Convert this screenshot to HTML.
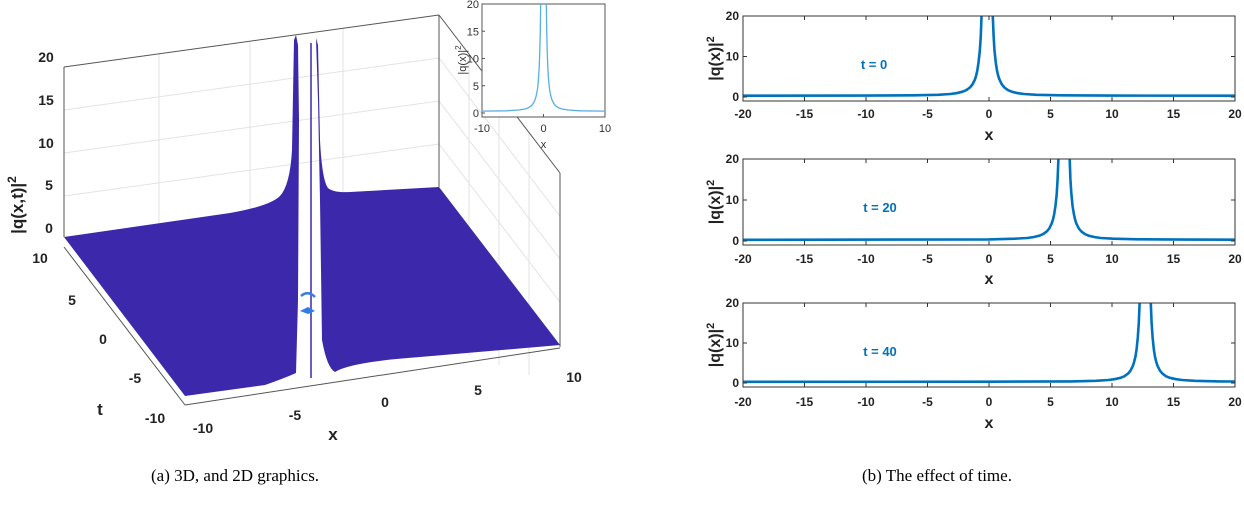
<!DOCTYPE html>
<html><head><meta charset="utf-8">
<style>
html,body{margin:0;padding:0;background:#fff;}
body{width:1244px;height:508px;overflow:hidden;position:relative;font-family:"Liberation Sans",sans-serif;}
svg{position:absolute;left:0;top:0;}
.cap{position:absolute;top:466px;font-family:"Liberation Serif",serif;font-size:17px;color:#000;white-space:nowrap;}
</style></head>
<body>
<svg id="fig" width="1244" height="508" viewBox="0 0 1244 508">
  <g id="p3d">
    <g stroke="#e3e3e3" stroke-width="1" fill="none">
      <line x1="64" y1="110" x2="439" y2="58"/>
      <line x1="64" y1="153" x2="439" y2="101"/>
      <line x1="64" y1="196" x2="439" y2="144"/>
      <line x1="159" y1="54" x2="159" y2="224"/>
      <line x1="250" y1="41" x2="250" y2="212"/>
      <line x1="343" y1="28" x2="343" y2="200"/>
      <line x1="439" y1="58" x2="560" y2="216"/>
      <line x1="439" y1="101" x2="560" y2="259"/>
      <line x1="439" y1="144" x2="560" y2="302"/>
      <line x1="469" y1="54" x2="469" y2="355"/>
      <line x1="499" y1="93" x2="499" y2="365"/>
      <line x1="529" y1="132" x2="529" y2="375"/>
    </g>
    <g stroke="#555" stroke-width="1" fill="none">
      <line x1="64" y1="67" x2="439" y2="15"/>
      <line x1="439" y1="15" x2="439" y2="187"/>
      <line x1="439" y1="15" x2="560" y2="173"/>
      <line x1="560" y1="173" x2="560" y2="347"/>
      <line x1="64" y1="67" x2="64" y2="237"/>
      <line x1="64" y1="247" x2="185" y2="405"/>
      <line x1="185" y1="405" x2="560" y2="348"/>
    </g>
    <path fill="#3c28aa"
      d="M64,237 L230,213 Q270,206 280,196 Q290,185 292,150 L294,40 L296,35 L298,45 L299,120 L298,300 L296,373 Q285,378 265,385 L185,396 Z"/>
    <path fill="#3c28aa"
      d="M316,38 L318,45 L320,140 Q322,180 328,188 Q334,193 350,192 L439,187 L560,345 L420,357 Q350,362 335,372 Q327,368 322,340 L320,200 L318,100 Z"/>
    <line x1="311" y1="43" x2="311" y2="378" stroke="#3c28aa" stroke-width="1.5"/>
    <path d="M301,296 Q308,290 315,297" stroke="#3a7de0" stroke-width="2.5" fill="none"/>
    <path d="M300,311 L308,307 L315,311 L308,314 Z" fill="#2f7be8"/>
    <g font-size="14" font-weight="bold" fill="#222" text-anchor="middle">
      <text x="46" y="62">20</text><text x="46" y="105">15</text><text x="46" y="148">10</text><text x="49" y="190">5</text><text x="49" y="233">0</text>
    </g>
    <g font-size="14" font-weight="bold" fill="#222" text-anchor="middle">
      <text x="40" y="263">10</text><text x="72" y="305">5</text><text x="103" y="344">0</text><text x="135" y="383">-5</text><text x="155" y="423">-10</text>
    </g>
    <g font-size="14" font-weight="bold" fill="#222" text-anchor="middle">
      <text x="203" y="433">-10</text><text x="295" y="420">-5</text><text x="385" y="407">0</text><text x="478" y="395">5</text><text x="574" y="382">10</text>
    </g>
    <text x="100" y="415" font-size="17" font-weight="bold" text-anchor="middle" fill="#222">t</text>
    <text x="333" y="440" font-size="17" font-weight="bold" text-anchor="middle" fill="#222">x</text>
    <text transform="translate(23,205) rotate(-90)" font-size="17" font-weight="bold" text-anchor="middle" fill="#222">|q(x,t)|<tspan dy="-7" font-size="12">2</tspan></text>
  </g>
  <g id="inset"></g>
  <g id="right"></g>
</svg>
<div class="cap" style="left:151px">(a) 3D, and 2D graphics.</div>
<div class="cap" style="left:862px">(b) The effect of time.</div>
<script>
// ---- data ----
const xTicks = [-20, -15, -10, -5, 0, 5, 10, 15, 20];
const yTicks = [0, 10, 20];
const tLabels = ["t = 0", "t = 20", "t = 40"];
const x0L = [-20, -10.15, -6.15, -4.15, -3.15, -2.65, -2.15, -1.85, -1.55, -1.35, -1.15, -1.05, -0.95, -0.85, -0.75, -0.67, -0.6];
const y0L = [0.31, 0.34, 0.41, 0.55, 0.74, 0.94, 1.3, 1.68, 2.34, 3.08, 4.3, 5.24, 6.55, 8.46, 11.4, 15.1, 20.5];
const x0R = [0.3, 0.37, 0.45, 0.55, 0.65, 0.75, 0.85, 1.05, 1.25, 1.55, 1.85, 2.35, 2.85, 3.85, 5.85, 9.85, 20];
const y0R = [20.5, 15.1, 11.4, 8.46, 6.55, 5.24, 4.3, 3.08, 2.34, 1.68, 1.3, 0.94, 0.74, 0.55, 0.41, 0.34, 0.31];
const x20L = [-20, 0, 2.1, 3.1, 3.6, 4.1, 4.4, 4.7, 4.9, 5.1, 5.2, 5.3, 5.4, 5.5, 5.58, 5.65];
const y20L = [0.3, 0.4, 0.55, 0.74, 0.94, 1.3, 1.68, 2.34, 3.08, 4.3, 5.24, 6.55, 8.46, 11.4, 15.1, 20.5];
const x20R = [6.55, 6.62, 6.7, 6.8, 6.9, 7.0, 7.1, 7.3, 7.5, 7.8, 8.1, 8.6, 9.1, 10.1, 12.1, 16.1, 20];
const y20R = [20.5, 15.1, 11.4, 8.46, 6.55, 5.24, 4.3, 3.08, 2.34, 1.68, 1.3, 0.94, 0.74, 0.55, 0.41, 0.34, 0.32];
const x40L = [-20, 0, 6.7, 8.7, 9.7, 10.2, 10.7, 11.0, 11.3, 11.5, 11.7, 11.8, 11.9, 12.0, 12.1, 12.18, 12.25];
const y40L = [0.3, 0.33, 0.41, 0.55, 0.74, 0.94, 1.3, 1.68, 2.34, 3.08, 4.3, 5.24, 6.55, 8.46, 11.4, 15.1, 20.5];
const x40R = [13.15, 13.22, 13.3, 13.4, 13.5, 13.6, 13.7, 13.9, 14.1, 14.4, 14.7, 15.2, 15.7, 16.7, 18.7, 20];
const y40R = [20.5, 15.1, 11.4, 8.46, 6.55, 5.24, 4.3, 3.08, 2.34, 1.68, 1.3, 0.94, 0.74, 0.55, 0.41, 0.38];
const xInL = [-10, -6, -4, -3, -2.5, -2, -1.7, -1.4, -1.2, -1, -0.9, -0.8, -0.7, -0.6, -0.52, -0.45];
const yInL = [0.34, 0.41, 0.55, 0.74, 0.94, 1.3, 1.68, 2.34, 3.08, 4.3, 5.24, 6.55, 8.46, 11.4, 15.1, 20.5];
const xInR = [0.45, 0.52, 0.6, 0.7, 0.8, 0.9, 1, 1.2, 1.4, 1.7, 2, 2.5, 3, 4, 6, 10];
const yInR = [20.5, 15.1, 11.4, 8.46, 6.55, 5.24, 4.3, 3.08, 2.34, 1.68, 1.3, 0.94, 0.74, 0.55, 0.41, 0.34];
const inXTicks = [-10, 0, 10];
const inYTicks = [0, 5, 10, 15, 20];

const NS = "http://www.w3.org/2000/svg";
function mk(tag, attrs, parent) {
  const e = document.createElementNS(NS, tag);
  for (const k in attrs) e.setAttribute(k, attrs[k]);
  parent.appendChild(e);
  return e;
}

// ---- right plots ----
const right = document.getElementById("right");
const X0 = 743, X1 = 1235;
const panels = [
  { top: 16, zero: 97, bot: 101, xs: [x0L, x0R], ys: [y0L, y0R], tx: 874, ty: 69, lab: 113, xl: 140 },
  { top: 159, zero: 241, bot: 245, xs: [x20L, x20R], ys: [y20L, y20R], tx: 880, ty: 212, lab: 258, xl: 284 },
  { top: 303, zero: 383, bot: 387, xs: [x40L, x40R], ys: [y40L, y40R], tx: 880, ty: 356, lab: 401, xl: 428 }
];
panels.forEach((p, i) => {
  const g = mk("g", {}, right);
  
  
  const sx = v => X0 + (v + 20) / 40 * (X1 - X0);
  const sy = v => p.zero - v * (p.zero - p.top) / 20;
  const clipId = "clip" + i;
  const cp = mk("clipPath", { id: clipId }, g);
  mk("rect", { x: X0, y: p.top, width: X1 - X0, height: p.bot - p.top }, cp);
  for (let s = 0; s < 2; s++) {
    const d = p.xs[s].map((x, j) => (j ? "L" : "M") + sx(x).toFixed(1) + "," + sy(p.ys[s][j]).toFixed(1)).join(" ");
    const path = mk("path", { d: d, fill: "none", stroke: "#0072bd", "stroke-width": 2.6, "clip-path": "url(#" + clipId + ")", "stroke-linejoin": "round" }, g);
    
    
  }
  const box = mk("rect", { x: X0, y: p.top, width: X1 - X0, height: p.bot - p.top, fill: "none", stroke: "#333", "stroke-width": 1 }, g);
  
  
  xTicks.forEach(v => {
    const x = sx(v);
    const tk = mk("line", { x1: x, y1: p.bot, x2: x, y2: p.bot - 4, stroke: "#333" }, g);
    
    
    mk("line", { x1: x, y1: p.top, x2: x, y2: p.top + 4, stroke: "#333" }, g);
    const t = mk("text", { x: x, y: p.lab + 5, "font-size": 12, "font-weight": "bold", "text-anchor": "middle", fill: "#222" }, g);
    
    
    t.textContent = v;
  });
  yTicks.forEach(v => {
    const y = sy(v);
    mk("line", { x1: X0, y1: y, x2: X0 + 4, y2: y, stroke: "#333" }, g);
    mk("line", { x1: X1, y1: y, x2: X1 - 4, y2: y, stroke: "#333" }, g);
    const t = mk("text", { x: X0 - 4, y: y + 4, "font-size": 12, "font-weight": "bold", "text-anchor": "end", fill: "#222" }, g);
    
    
    t.textContent = v;
  });
  const xl = mk("text", { x: (X0 + X1) / 2, y: p.xl, "font-size": 16, "font-weight": "bold", "text-anchor": "middle", fill: "#222" }, g);
  
  
  xl.textContent = "x";
  const yl = mk("text", { transform: "translate(720," + ((p.top + p.bot) / 2) + ") rotate(-90)", "font-size": 16, "font-weight": "bold", "text-anchor": "middle", fill: "#222" }, g);
  
  
  yl.innerHTML = '|q(x)|<tspan dy="-6" font-size="11">2</tspan>';
  const tl = mk("text", { x: p.tx, y: p.ty, "font-size": 13, "font-weight": "bold", "text-anchor": "middle", fill: "#0072bd" }, g);
  
  
  tl.textContent = tLabels[i];
});

// ---- inset ----
const inset = document.getElementById("inset");
const IX0 = 482, IX1 = 605, IT = 4, IZ = 113, IB = 117;
const isx = v => IX0 + (v + 10) / 20 * (IX1 - IX0);
const isy = v => IZ - v * (IZ - IT) / 20;
const bg = mk("rect", { x: IX0, y: IT, width: IX1 - IX0, height: IB - IT, fill: "#fff", stroke: "#555", "stroke-width": 1 }, inset);


const icp = mk("clipPath", { id: "iclip" }, inset);
mk("rect", { x: IX0, y: IT, width: IX1 - IX0, height: IB - IT }, icp);
[[xInL, yInL], [xInR, yInR]].forEach((s, k) => {
  const d = s[0].map((x, j) => (j ? "L" : "M") + isx(x).toFixed(1) + "," + isy(s[1][j]).toFixed(1)).join(" ");
  const p = mk("path", { d: d, fill: "none", stroke: "#5aaee0", "stroke-width": 1.3, "clip-path": "url(#iclip)", "stroke-linejoin": "round" }, inset);
  
  
});
inXTicks.forEach(v => {
  const t = mk("text", { x: isx(v), y: 132, "font-size": 11, "text-anchor": "middle", fill: "#333" }, inset);
  
  
  t.textContent = v;
  mk("line", { x1: isx(v), y1: IB, x2: isx(v), y2: IB - 3, stroke: "#555" }, inset);
});
inYTicks.forEach(v => {
  const t = mk("text", { x: IX0 - 3, y: isy(v) + 4, "font-size": 11, "text-anchor": "end", fill: "#333" }, inset);
  
  
  t.textContent = v;
  mk("line", { x1: IX0, y1: isy(v), x2: IX0 + 3, y2: isy(v), stroke: "#555" }, inset);
});
const ixl = mk("text", { x: isx(0), y: 148, "font-size": 11, "text-anchor": "middle", fill: "#333" }, inset);


ixl.textContent = "x";
const iyl = mk("text", { transform: "translate(466,60) rotate(-90)", "font-size": 11, "text-anchor": "middle", fill: "#333" }, inset);


iyl.innerHTML = '|q(x)|<tspan dy="-5" font-size="8">2</tspan>';
</script>
</body></html>
